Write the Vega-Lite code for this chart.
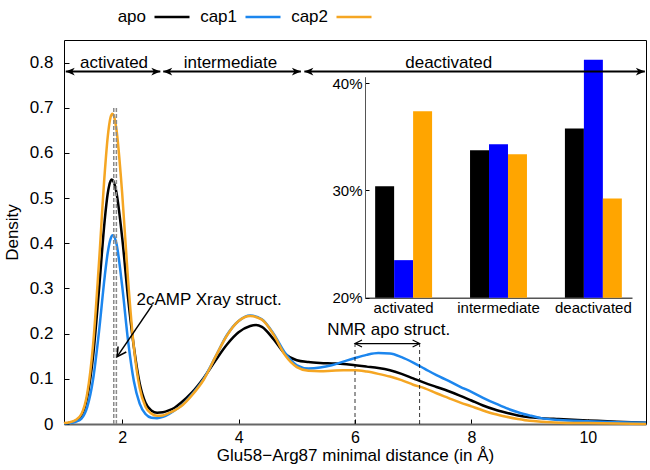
{
  "$schema": "https://vega.github.io/schema/vega-lite/v6.json",
  "width": 582,
  "height": 384,
  "autosize": {"type": "none"},
  "padding": {"left": 64, "top": 40, "right": 4, "bottom": 46},
  "config": {
    "font": "Liberation Sans",
    "view": {"stroke": "black", "strokeWidth": 1},
    "axis": {"labelColor": "black", "titleColor": "black", "tickColor": "black", "grid": false, "titleFontWeight": "normal", "labelFont": "Liberation Sans", "titleFont": "Liberation Sans"},
    "text": {"font": "Liberation Sans", "color": "black"}
  },
  "datasets": {
    "curves": [
      {"x": 1.0, "y": 0.001, "s": "apo"}, {"x": 1.1, "y": 0.003, "s": "apo"}, {"x": 1.2, "y": 0.007, "s": "apo"}, {"x": 1.3, "y": 0.019, "s": "apo"}, {"x": 1.4, "y": 0.060, "s": "apo"}, {"x": 1.5, "y": 0.150, "s": "apo"}, {"x": 1.6, "y": 0.295, "s": "apo"}, {"x": 1.7, "y": 0.452, "s": "apo"}, {"x": 1.75, "y": 0.509, "s": "apo"}, {"x": 1.8, "y": 0.538, "s": "apo"}, {"x": 1.82, "y": 0.541, "s": "apo"}, {"x": 1.85, "y": 0.537, "s": "apo"}, {"x": 1.9, "y": 0.513, "s": "apo"}, {"x": 2.0, "y": 0.412, "s": "apo"}, {"x": 2.1, "y": 0.280, "s": "apo"}, {"x": 2.2, "y": 0.171, "s": "apo"}, {"x": 2.3, "y": 0.090, "s": "apo"}, {"x": 2.4, "y": 0.047, "s": "apo"}, {"x": 2.5, "y": 0.030, "s": "apo"}, {"x": 2.6, "y": 0.025, "s": "apo"}, {"x": 2.7, "y": 0.026, "s": "apo"}, {"x": 2.8, "y": 0.030, "s": "apo"}, {"x": 2.9, "y": 0.036, "s": "apo"}, {"x": 3.0, "y": 0.046, "s": "apo"}, {"x": 3.2, "y": 0.070, "s": "apo"}, {"x": 3.4, "y": 0.102, "s": "apo"}, {"x": 3.6, "y": 0.140, "s": "apo"}, {"x": 3.8, "y": 0.176, "s": "apo"}, {"x": 4.0, "y": 0.203, "s": "apo"}, {"x": 4.2, "y": 0.217, "s": "apo"}, {"x": 4.3, "y": 0.219, "s": "apo"}, {"x": 4.4, "y": 0.215, "s": "apo"}, {"x": 4.6, "y": 0.188, "s": "apo"}, {"x": 4.8, "y": 0.155, "s": "apo"}, {"x": 5.0, "y": 0.141, "s": "apo"}, {"x": 5.2, "y": 0.137, "s": "apo"}, {"x": 5.4, "y": 0.135, "s": "apo"}, {"x": 5.6, "y": 0.134, "s": "apo"}, {"x": 5.8, "y": 0.133, "s": "apo"}, {"x": 6.0, "y": 0.130, "s": "apo"}, {"x": 6.2, "y": 0.127, "s": "apo"}, {"x": 6.4, "y": 0.124, "s": "apo"}, {"x": 6.6, "y": 0.119, "s": "apo"}, {"x": 6.8, "y": 0.111, "s": "apo"}, {"x": 7.0, "y": 0.101, "s": "apo"}, {"x": 7.2, "y": 0.091, "s": "apo"}, {"x": 7.4, "y": 0.082, "s": "apo"}, {"x": 7.6, "y": 0.073, "s": "apo"}, {"x": 7.8, "y": 0.063, "s": "apo"}, {"x": 8.0, "y": 0.052, "s": "apo"}, {"x": 8.2, "y": 0.041, "s": "apo"}, {"x": 8.4, "y": 0.032, "s": "apo"}, {"x": 8.6, "y": 0.025, "s": "apo"}, {"x": 8.8, "y": 0.019, "s": "apo"}, {"x": 9.0, "y": 0.015, "s": "apo"}, {"x": 9.2, "y": 0.013, "s": "apo"}, {"x": 9.5, "y": 0.011, "s": "apo"}, {"x": 10.0, "y": 0.008, "s": "apo"}, {"x": 10.5, "y": 0.005, "s": "apo"}, {"x": 11.0, "y": 0.003, "s": "apo"},
      {"x": 1.0, "y": 0.001, "s": "cap1"}, {"x": 1.1, "y": 0.002, "s": "cap1"}, {"x": 1.2, "y": 0.005, "s": "cap1"}, {"x": 1.3, "y": 0.012, "s": "cap1"}, {"x": 1.4, "y": 0.038, "s": "cap1"}, {"x": 1.5, "y": 0.099, "s": "cap1"}, {"x": 1.6, "y": 0.203, "s": "cap1"}, {"x": 1.7, "y": 0.327, "s": "cap1"}, {"x": 1.75, "y": 0.378, "s": "cap1"}, {"x": 1.8, "y": 0.410, "s": "cap1"}, {"x": 1.84, "y": 0.418, "s": "cap1"}, {"x": 1.9, "y": 0.400, "s": "cap1"}, {"x": 2.0, "y": 0.305, "s": "cap1"}, {"x": 2.1, "y": 0.185, "s": "cap1"}, {"x": 2.2, "y": 0.095, "s": "cap1"}, {"x": 2.3, "y": 0.045, "s": "cap1"}, {"x": 2.4, "y": 0.022, "s": "cap1"}, {"x": 2.5, "y": 0.014, "s": "cap1"}, {"x": 2.6, "y": 0.013, "s": "cap1"}, {"x": 2.7, "y": 0.016, "s": "cap1"}, {"x": 2.8, "y": 0.022, "s": "cap1"}, {"x": 2.9, "y": 0.030, "s": "cap1"}, {"x": 3.0, "y": 0.039, "s": "cap1"}, {"x": 3.2, "y": 0.066, "s": "cap1"}, {"x": 3.4, "y": 0.100, "s": "cap1"}, {"x": 3.6, "y": 0.148, "s": "cap1"}, {"x": 3.8, "y": 0.197, "s": "cap1"}, {"x": 4.0, "y": 0.228, "s": "cap1"}, {"x": 4.2, "y": 0.240, "s": "cap1"}, {"x": 4.4, "y": 0.232, "s": "cap1"}, {"x": 4.6, "y": 0.200, "s": "cap1"}, {"x": 4.8, "y": 0.157, "s": "cap1"}, {"x": 5.0, "y": 0.130, "s": "cap1"}, {"x": 5.2, "y": 0.123, "s": "cap1"}, {"x": 5.4, "y": 0.125, "s": "cap1"}, {"x": 5.6, "y": 0.130, "s": "cap1"}, {"x": 5.8, "y": 0.138, "s": "cap1"}, {"x": 6.0, "y": 0.146, "s": "cap1"}, {"x": 6.2, "y": 0.153, "s": "cap1"}, {"x": 6.4, "y": 0.157, "s": "cap1"}, {"x": 6.6, "y": 0.156, "s": "cap1"}, {"x": 6.8, "y": 0.148, "s": "cap1"}, {"x": 7.0, "y": 0.136, "s": "cap1"}, {"x": 7.2, "y": 0.122, "s": "cap1"}, {"x": 7.4, "y": 0.108, "s": "cap1"}, {"x": 7.6, "y": 0.096, "s": "cap1"}, {"x": 7.8, "y": 0.083, "s": "cap1"}, {"x": 8.0, "y": 0.071, "s": "cap1"}, {"x": 8.2, "y": 0.058, "s": "cap1"}, {"x": 8.4, "y": 0.046, "s": "cap1"}, {"x": 8.6, "y": 0.035, "s": "cap1"}, {"x": 8.8, "y": 0.026, "s": "cap1"}, {"x": 9.0, "y": 0.019, "s": "cap1"}, {"x": 9.2, "y": 0.013, "s": "cap1"}, {"x": 9.5, "y": 0.009, "s": "cap1"}, {"x": 10.0, "y": 0.006, "s": "cap1"}, {"x": 10.5, "y": 0.004, "s": "cap1"}, {"x": 11.0, "y": 0.003, "s": "cap1"},
      {"x": 1.0, "y": 0.002, "s": "cap2"}, {"x": 1.1, "y": 0.004, "s": "cap2"}, {"x": 1.2, "y": 0.009, "s": "cap2"}, {"x": 1.3, "y": 0.022, "s": "cap2"}, {"x": 1.4, "y": 0.068, "s": "cap2"}, {"x": 1.5, "y": 0.176, "s": "cap2"}, {"x": 1.6, "y": 0.355, "s": "cap2"}, {"x": 1.7, "y": 0.556, "s": "cap2"}, {"x": 1.75, "y": 0.634, "s": "cap2"}, {"x": 1.8, "y": 0.679, "s": "cap2"}, {"x": 1.83, "y": 0.687, "s": "cap2"}, {"x": 1.85, "y": 0.684, "s": "cap2"}, {"x": 1.9, "y": 0.653, "s": "cap2"}, {"x": 2.0, "y": 0.510, "s": "cap2"}, {"x": 2.1, "y": 0.320, "s": "cap2"}, {"x": 2.2, "y": 0.170, "s": "cap2"}, {"x": 2.3, "y": 0.080, "s": "cap2"}, {"x": 2.4, "y": 0.038, "s": "cap2"}, {"x": 2.5, "y": 0.023, "s": "cap2"}, {"x": 2.6, "y": 0.018, "s": "cap2"}, {"x": 2.7, "y": 0.019, "s": "cap2"}, {"x": 2.8, "y": 0.024, "s": "cap2"}, {"x": 2.9, "y": 0.030, "s": "cap2"}, {"x": 3.0, "y": 0.038, "s": "cap2"}, {"x": 3.2, "y": 0.064, "s": "cap2"}, {"x": 3.4, "y": 0.098, "s": "cap2"}, {"x": 3.6, "y": 0.148, "s": "cap2"}, {"x": 3.8, "y": 0.196, "s": "cap2"}, {"x": 4.0, "y": 0.228, "s": "cap2"}, {"x": 4.2, "y": 0.239, "s": "cap2"}, {"x": 4.4, "y": 0.231, "s": "cap2"}, {"x": 4.6, "y": 0.198, "s": "cap2"}, {"x": 4.8, "y": 0.152, "s": "cap2"}, {"x": 5.0, "y": 0.126, "s": "cap2"}, {"x": 5.2, "y": 0.118, "s": "cap2"}, {"x": 5.4, "y": 0.117, "s": "cap2"}, {"x": 5.6, "y": 0.118, "s": "cap2"}, {"x": 5.8, "y": 0.119, "s": "cap2"}, {"x": 6.0, "y": 0.119, "s": "cap2"}, {"x": 6.2, "y": 0.116, "s": "cap2"}, {"x": 6.4, "y": 0.111, "s": "cap2"}, {"x": 6.6, "y": 0.105, "s": "cap2"}, {"x": 6.8, "y": 0.097, "s": "cap2"}, {"x": 7.0, "y": 0.087, "s": "cap2"}, {"x": 7.2, "y": 0.079, "s": "cap2"}, {"x": 7.4, "y": 0.068, "s": "cap2"}, {"x": 7.6, "y": 0.058, "s": "cap2"}, {"x": 7.8, "y": 0.048, "s": "cap2"}, {"x": 8.0, "y": 0.039, "s": "cap2"}, {"x": 8.2, "y": 0.030, "s": "cap2"}, {"x": 8.4, "y": 0.022, "s": "cap2"}, {"x": 8.6, "y": 0.016, "s": "cap2"}, {"x": 8.8, "y": 0.011, "s": "cap2"}, {"x": 9.0, "y": 0.007, "s": "cap2"}, {"x": 9.2, "y": 0.005, "s": "cap2"}, {"x": 9.5, "y": 0.003, "s": "cap2"}, {"x": 10.0, "y": 0.002, "s": "cap2"}, {"x": 10.5, "y": 0.001, "s": "cap2"}, {"x": 11.0, "y": 0.0, "s": "cap2"}
    ],
    "bars": [
      {"cat": "activated", "s": "apo", "v": 0.3039}, {"cat": "activated", "s": "cap1", "v": 0.235}, {"cat": "activated", "s": "cap2", "v": 0.3737},
      {"cat": "intermediate", "s": "apo", "v": 0.3374}, {"cat": "intermediate", "s": "cap1", "v": 0.343}, {"cat": "intermediate", "s": "cap2", "v": 0.3337},
      {"cat": "deactivated", "s": "apo", "v": 0.3576}, {"cat": "deactivated", "s": "cap1", "v": 0.4217}, {"cat": "deactivated", "s": "cap2", "v": 0.2925}
    ],
    "xray": [{"x": 1.855, "y": 0, "y2": 0.70}, {"x": 1.9, "y": 0, "y2": 0.70}],
    "nmr": [{"x": 6.0, "y": 0, "y2": 0.186}, {"x": 7.11, "y": 0, "y2": 0.186}],
    "nmrArrow": [{"x": 6.0, "x2": 7.11, "y": 0.178}],
    "nmrHeads": [{"x": 6.0, "y": 0.178, "dir": "left"}, {"x": 7.11, "y": 0.178, "dir": "right"}],
    "xrayArrow": [{"x": 2.516, "y": 0.263, "x2": 1.913, "y2": 0.149}],
    "xrayHead": [{"x": 1.913, "y": 0.149}],
    "regions": [{"x": 1.03, "x2": 2.655, "y": 0.78}, {"x": 2.705, "x2": 5.07, "y": 0.78}, {"x": 5.13, "x2": 10.98, "y": 0.78}],
    "regionHeads": [
      {"x": 1.03, "y": 0.78, "dir": "left"}, {"x": 2.655, "y": 0.78, "dir": "right"},
      {"x": 2.705, "y": 0.78, "dir": "left"}, {"x": 5.07, "y": 0.78, "dir": "right"},
      {"x": 5.13, "y": 0.78, "dir": "left"}, {"x": 10.98, "y": 0.78, "dir": "right"}
    ],
    "regionLabels": [{"x": 1.86, "y": 0.798, "label": "activated"}, {"x": 3.86, "y": 0.798, "label": "intermediate"}, {"x": 7.61, "y": 0.798, "label": "deactivated"}],
    "notes": [{"x": 2.247, "y": 0.274, "label": "2cAMP Xray struct.", "a": "left"}, {"x": 6.58, "y": 0.208, "label": "NMR apo struct.", "a": "center"}]
  },
  "resolve": {"scale": {"x": "independent", "y": "independent", "color": "independent"}},
  "layer": [
    {
      "layer": [
        {
          "data": {"name": "curves"},
          "mark": {"type": "line", "strokeWidth": 2.5, "interpolate": "monotone"},
          "encoding": {
            "x": {"field": "x", "type": "quantitative", "scale": {"domain": [1, 11], "nice": false, "zero": false},
              "axis": {"values": [2, 4, 6, 8, 10], "format": "d", "title": "Glu58\u2212Arg87 minimal distance (in \u00c5)", "titleFontSize": 17, "labelFontSize": 16, "tickSize": -5, "labelPadding": 10, "domainColor": "#666666", "domainWidth": 2, "titleY": 31, "titleBaseline": "middle"}},
            "y": {"field": "y", "type": "quantitative", "scale": {"domain": [0, 0.85], "nice": false},
              "axis": {"values": [0, 0.1, 0.2, 0.3, 0.4, 0.5, 0.6, 0.7, 0.8], "format": ".1~f", "title": "Density", "titleFontSize": 17, "labelFontSize": 17, "tickSize": -5, "labelPadding": 16, "domain": false, "titleX": -52, "titleY": 192, "titleBaseline": "middle", "titleAlign": "center"}},
            "color": {"field": "s", "type": "nominal", "scale": {"domain": ["apo", "cap1", "cap2"], "range": ["#000000", "#1C86EE", "#F5A623"]},
              "legend": {"orient": "none", "legendX": 89, "legendY": -42, "direction": "horizontal", "title": null, "symbolType": "stroke", "symbolSize": 1225, "symbolStrokeWidth": 2.5, "labelAlign": "right", "labelOffset": -45, "labelFontSize": 17, "labelColor": "black", "columnPadding": 5, "gridAlign": "all"}}
          }
        },
        {
          "data": {"name": "xray"},
          "mark": {"type": "rule", "color": "#8a8a8a", "strokeWidth": 1.5, "strokeDash": [4, 2]},
          "encoding": {"x": {"field": "x", "type": "quantitative"}, "y": {"field": "y", "type": "quantitative"}, "y2": {"field": "y2"}}
        },
        {
          "data": {"name": "nmr"},
          "mark": {"type": "rule", "color": "black", "strokeWidth": 0.8, "strokeDash": [4, 3]},
          "encoding": {"x": {"field": "x", "type": "quantitative"}, "y": {"field": "y", "type": "quantitative"}, "y2": {"field": "y2"}}
        },
        {
          "data": {"name": "nmrArrow"},
          "mark": {"type": "rule", "color": "black", "strokeWidth": 1.2},
          "encoding": {"x": {"field": "x", "type": "quantitative"}, "x2": {"field": "x2"}, "y": {"field": "y", "type": "quantitative"}}
        },
        {
          "data": {"name": "nmrHeads"},
          "transform": [{"filter": "datum.dir == 'left'"}],
          "mark": {"type": "point", "shape": "M1,-0.5L0,0L1,0.5", "size": 196, "filled": false, "color": "black", "strokeWidth": 1.2, "opacity": 1},
          "encoding": {"x": {"field": "x", "type": "quantitative"}, "y": {"field": "y", "type": "quantitative"}}
        },
        {
          "data": {"name": "nmrHeads"},
          "transform": [{"filter": "datum.dir == 'right'"}],
          "mark": {"type": "point", "shape": "M-1,-0.5L0,0L-1,0.5", "size": 196, "filled": false, "color": "black", "strokeWidth": 1.2, "opacity": 1},
          "encoding": {"x": {"field": "x", "type": "quantitative"}, "y": {"field": "y", "type": "quantitative"}}
        },
        {
          "data": {"name": "xrayArrow"},
          "mark": {"type": "rule", "color": "black", "strokeWidth": 1.5},
          "encoding": {"x": {"field": "x", "type": "quantitative"}, "x2": {"field": "x2"}, "y": {"field": "y", "type": "quantitative"}, "y2": {"field": "y2"}}
        },
        {
          "data": {"name": "xrayHead"},
          "mark": {"type": "point", "shape": "M-1,-0.55L0,0L-1,0.55", "size": 324, "angle": 124, "filled": false, "color": "black", "strokeWidth": 1.5, "opacity": 1},
          "encoding": {"x": {"field": "x", "type": "quantitative"}, "y": {"field": "y", "type": "quantitative"}}
        },
        {
          "data": {"name": "regionLabels"},
          "mark": {"type": "text", "fontSize": 17, "baseline": "middle", "align": "center"},
          "encoding": {"x": {"field": "x", "type": "quantitative"}, "y": {"field": "y", "type": "quantitative"}, "text": {"field": "label"}}
        },
        {
          "data": {"name": "notes"},
          "transform": [{"filter": "datum.a == 'left'"}],
          "mark": {"type": "text", "fontSize": 17, "baseline": "middle", "align": "left"},
          "encoding": {"x": {"field": "x", "type": "quantitative"}, "y": {"field": "y", "type": "quantitative"}, "text": {"field": "label"}}
        },
        {
          "data": {"name": "notes"},
          "transform": [{"filter": "datum.a == 'center'"}],
          "mark": {"type": "text", "fontSize": 17, "baseline": "middle", "align": "center"},
          "encoding": {"x": {"field": "x", "type": "quantitative"}, "y": {"field": "y", "type": "quantitative"}, "text": {"field": "label"}}
        }
      ]
    },
    {
      "data": {"name": "bars"},
      "mark": {"type": "bar"},
      "encoding": {
        "x": {"field": "cat", "type": "nominal", "sort": ["activated", "intermediate", "deactivated"],
          "scale": {"range": [301, 568], "paddingInner": 0.4, "paddingOuter": 0.107},
          "axis": {"orient": "bottom", "offset": -126.3, "title": null, "ticks": false, "labelFontSize": 15, "labelPadding": 3, "labelAngle": 0, "domainColor": "#555555", "domainWidth": 1.5}},
        "xOffset": {"field": "s", "type": "nominal", "sort": ["apo", "cap1", "cap2"], "scale": {"paddingInner": 0, "paddingOuter": 0}},
        "y": {"field": "v", "type": "quantitative",
          "scale": {"domain": [0.2, 0.406], "range": [257.7, 36.7], "zero": false, "nice": false},
          "axis": {"orient": "left", "offset": -301, "values": [0.2, 0.3, 0.4], "format": ".0%", "title": null, "labelFontSize": 15, "tickSize": -4, "labelPadding": 7, "domainColor": "#555555", "domainWidth": 1}},
        "y2": {"datum": 0.2},
        "color": {"field": "s", "type": "nominal", "scale": {"domain": ["apo", "cap1", "cap2"], "range": ["#000000", "#0000FF", "#FFA500"]}, "legend": null}
      }
    },
    {
      "layer": [
        {
          "data": {"name": "regions"},
          "mark": {"type": "rule", "color": "black", "strokeWidth": 2},
          "encoding": {
            "x": {"field": "x", "type": "quantitative", "scale": {"domain": [1, 11], "nice": false, "zero": false}, "axis": null},
            "x2": {"field": "x2"},
            "y": {"field": "y", "type": "quantitative", "scale": {"domain": [0, 0.85], "nice": false}, "axis": null}
          }
        },
        {
          "data": {"name": "regionHeads"},
          "transform": [{"filter": "datum.dir == 'left'"}],
          "mark": {"type": "point", "shape": "M0,0L1,-0.42L0.72,0L1,0.42Z", "size": 324, "filled": true, "color": "black", "opacity": 1},
          "encoding": {"x": {"field": "x", "type": "quantitative"}, "y": {"field": "y", "type": "quantitative"}}
        },
        {
          "data": {"name": "regionHeads"},
          "transform": [{"filter": "datum.dir == 'right'"}],
          "mark": {"type": "point", "shape": "M0,0L-1,-0.42L-0.72,0L-1,0.42Z", "size": 324, "filled": true, "color": "black", "opacity": 1},
          "encoding": {"x": {"field": "x", "type": "quantitative"}, "y": {"field": "y", "type": "quantitative"}}
        }
      ]
    }
  ]
}
